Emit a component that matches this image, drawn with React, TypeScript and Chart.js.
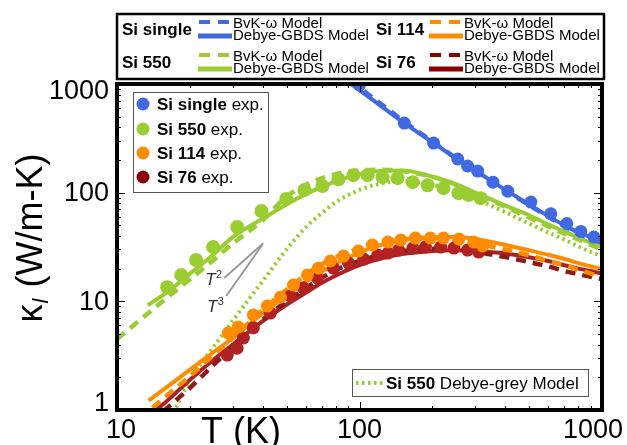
import React, { useEffect, useRef } from "react";
import { Chart, registerables } from "chart.js";

Chart.register(...registerables);

const FONT = '"Liberation Sans", Arial, Helvetica, sans-serif';

// ---------- axis ticks ----------
const xTickValues = [10, 100, 1000];
const xTickLabels = ["10", "100", "1000"];
const yTickValues = [1, 10, 100, 1000];
const yTickLabels = ["1", "10", "100", "1000"];

// ---------- Si single ----------
const singleExpT = [100, 153, 202, 254, 279, 307, 355, 409, 509, 615, 716, 818, 926];
const singleExpK = [980, 437, 286, 204, 176, 158, 125, 103, 82, 64, 52, 44, 39];
const singleModelT = [80, 100, 120, 150, 200, 250, 300, 400, 500, 600, 700, 800, 900, 1000];
const singleGbdsK = [1250, 880, 650, 450, 290, 207, 160, 106, 78, 61, 50, 43, 39, 36];
const singleBvkK = [1300, 920, 680, 465, 295, 208, 160, 105, 77, 60, 49, 42, 37.5, 34.5];

// ---------- Si 550 ----------
const s550ExpT = [16.1, 18.4, 21.2, 24.9, 31.3, 39.4, 49.9, 59.3, 70.3, 81.9, 94.4, 107.9, 124.5, 143.5, 165.6, 191, 222, 256, 282, 316];
const s550ExpK = [13.5, 17.5, 24.0, 31.6, 48.3, 67.8, 87.4, 105.7, 115, 133, 145, 145, 139, 136, 125, 117, 110, 99, 95, 89];
const s550GbdsT = [13.4, 16, 20, 25, 30, 40, 50, 60, 70, 80, 100, 120, 150, 200, 250, 300, 400, 500, 600, 700, 800, 900, 1000];
const s550GbdsK = [9.2, 12, 18, 27, 39, 58, 78, 97, 113, 127, 148, 158, 160, 140, 120, 100, 76, 62, 51, 44, 38.5, 34.5, 31.5];
const s550BvkT = [10, 12, 15, 20, 25, 30, 40, 50, 60, 70, 80, 100, 120, 150, 200, 250, 300, 400, 500, 600, 700, 800, 900, 1000];
const s550BvkK = [4.5, 6.3, 9.5, 16, 24, 34, 56, 92, 118, 136, 148, 160, 163, 158, 140, 118, 98, 74, 59, 49, 42, 37, 33, 30];
const s550GreyT = [17.5, 20, 25, 30, 35, 40, 50, 60, 70, 80, 100, 120, 150, 200, 250, 300, 400, 500, 600, 700, 800, 900, 1000];
const s550GreyK = [1.05, 1.9, 3.8, 6.6, 10.5, 15.5, 30, 48, 65, 82, 106, 120, 128, 118, 102, 88, 66, 52, 43, 37, 32, 28.5, 26];

// ---------- Si 114 ----------
const s114ExpT = [28.8, 31.6, 36.5, 41.7, 47.2, 53.4, 61, 67.7, 75.9, 85.9, 99, 113, 131, 148, 170, 196, 222, 257, 296, 322];
const s114ExpK = [5.1, 5.8, 7.5, 9.05, 10.9, 14.1, 17.5, 20.2, 23.5, 26.1, 29.0, 33.0, 35.1, 36.6, 38.2, 38.2, 38.2, 37.4, 35.1, 32.3];
const s114GbdsT = [13.5, 15, 20, 25, 30, 40, 50, 60, 70, 80, 100, 120, 150, 200, 250, 300, 400, 500, 600, 700, 800, 900, 1000];
const s114GbdsK = [1.22, 1.45, 2.35, 3.4, 4.6, 7.8, 11.3, 15, 18.8, 22.3, 28, 32.5, 36.5, 39, 39, 37.5, 33, 29.5, 26.8, 24.5, 22.5, 21, 19.8];
const s114BvkT = [14, 16, 20, 25, 30, 40, 50, 60, 70, 80, 100, 120, 150, 200, 250, 300, 400, 500, 600, 700, 800, 900, 1000];
const s114BvkK = [1.05, 1.35, 2.05, 3.2, 4.6, 8.4, 12.8, 17.5, 22, 25.5, 30.5, 34, 37, 38, 36.5, 34, 30, 26.5, 23.5, 21.5, 19.5, 18, 17];

// ---------- Si 76 ----------
const s76ExpT = [28.5, 31.3, 33.2, 36.5, 42.9, 51.9, 58.6, 67, 78.1, 90.1, 104, 119, 131, 145, 166, 187, 216, 245, 279, 310];
const s76ExpK = [3.2, 3.7, 4.6, 5.7, 7.8, 11.2, 13.3, 16.4, 20.2, 22.5, 24.5, 26.7, 27.8, 29.6, 30.9, 31.6, 31.6, 30.9, 29.6, 28.4];
const s76GbdsT = [14.5, 16, 20, 25, 30, 40, 50, 60, 70, 80, 100, 120, 150, 200, 250, 300, 400, 500, 600, 700, 800, 900, 1000];
const s76GbdsK = [1.0, 1.2, 1.9, 2.9, 4.0, 6.6, 9.3, 12, 14.8, 17.3, 21.5, 24.5, 27.2, 29, 29.5, 29, 27.5, 25.5, 23.5, 21.5, 20, 19, 18];
const s76BvkT = [15.5, 18, 20, 25, 30, 40, 50, 60, 70, 80, 100, 120, 150, 200, 250, 300, 400, 500, 600, 700, 800, 900, 1000];
const s76BvkK = [0.97, 1.3, 1.6, 2.6, 3.8, 6.8, 10, 13.2, 16.5, 19.5, 23.5, 26.5, 29, 30.5, 30, 28.5, 25.5, 23, 21, 19, 17.8, 16.8, 16];

// ---------- annotation (T^2 / T^3 guides, data coords) ----------
const guideT2 = [[27.7, 16.4], [40.1, 34.2]];
const guideT3 = [[28.2, 11.2], [39.7, 33.0]];
const guideT2Label = [23.1, 14.1];
const guideT3Label = [23.5, 7.97];

// ---------- colours ----------
const BLUE = "#4169E1";
const GREEN = "#9ACD32";
const ORANGE = "#FF8C00";
const RED_PT = "#B22222";
const RED_SOLID = "#A82424";
const RED_DASH = "#8B1A1A";
const DARKRED = "#8B0000";

const pts = (T: number[], k: number[]) => T.map((t, i) => ({ x: t, y: k[i] }));

const solid = (label: string, T: number[], k: number[], color: string) => ({
  label,
  data: pts(T, k),
  showLine: true,
  borderColor: color,
  backgroundColor: color,
  borderWidth: 4,
  pointRadius: 0,
  cubicInterpolationMode: "monotone",
  clip: 0,
  order: 2,
});
const dashed = (label: string, T: number[], k: number[], color: string) => ({
  ...solid(label, T, k, color),
  borderWidth: 4.5,
  borderDash: [10, 7],
  borderCapStyle: "butt",
});
const dotted = (label: string, T: number[], k: number[], color: string) => ({
  ...solid(label, T, k, color),
  borderWidth: 4,
  borderDash: [2.5, 3.5],
  borderCapStyle: "butt",
  order: 3,
});
const scatter = (label: string, T: number[], k: number[], color: string, r: number) => ({
  label,
  data: pts(T, k),
  showLine: false,
  pointRadius: r,
  pointBackgroundColor: color,
  pointBorderWidth: 0,
  borderColor: color,
  backgroundColor: color,
  order: 1,
});

function text(ctx: CanvasRenderingContext2D, parts: [string, string][], x: number, y: number) {
  let cx = x;
  for (const [font, s] of parts) {
    ctx.font = font;
    ctx.fillText(s, cx, y);
    cx += ctx.measureText(s).width;
  }
}

const decorPlugin = {
  id: "decor",
  afterDraw(chart: any) {
    const ctx: CanvasRenderingContext2D = chart.ctx;
    const { left, right, top, bottom } = chart.chartArea;
    const xs = chart.scales.x;
    const ys = chart.scales.y;
    const W = chart.width;
    ctx.save();

    // ---- T^2 / T^3 guides ----
    ctx.strokeStyle = "#9a9a9a";
    ctx.lineWidth = 2;
    ctx.setLineDash([]);
    for (const g of [guideT2, guideT3]) {
      ctx.beginPath();
      ctx.moveTo(xs.getPixelForValue(g[0][0]), ys.getPixelForValue(g[0][1]));
      ctx.lineTo(xs.getPixelForValue(g[1][0]), ys.getPixelForValue(g[1][1]));
      ctx.stroke();
    }
    ctx.fillStyle = "#333";
    ctx.textBaseline = "alphabetic";
    ctx.textAlign = "left";
    const lab = (p: number[], sup: string) => {
      const px = xs.getPixelForValue(p[0]);
      const py = ys.getPixelForValue(p[1]);
      ctx.font = `italic 17px ${FONT}`;
      ctx.fillText("T", px, py);
      const w = ctx.measureText("T").width;
      ctx.font = `11px ${FONT}`;
      ctx.fillText(sup, px + w + 0.5, py - 7);
    };
    lab(guideT2Label, "2");
    lab(guideT3Label, "3");

    // ---- ticks (inward) ----
    ctx.strokeStyle = "#000";
    ctx.lineWidth = 1;
    for (let d = 10; d <= 1000; d *= 10) {
      for (let m = 1; m <= 9; m++) {
        const v = d * m;
        if (v > 1000) break;
        const px = Math.round(xs.getPixelForValue(v)) + 0.5;
        const len = m === 1 ? 8 : 4;
        ctx.beginPath();
        ctx.moveTo(px, bottom);
        ctx.lineTo(px, bottom - len);
        ctx.moveTo(px, top);
        ctx.lineTo(px, top + len);
        ctx.stroke();
      }
    }
    for (let d = 1; d <= 1000; d *= 10) {
      for (let m = 1; m <= 9; m++) {
        const v = d * m;
        if (v > 1000) break;
        const py = Math.round(ys.getPixelForValue(v)) + 0.5;
        const len = m === 1 ? 8 : 4;
        ctx.beginPath();
        ctx.moveTo(left, py);
        ctx.lineTo(left + len, py);
        ctx.moveTo(right, py);
        ctx.lineTo(right - len, py);
        ctx.stroke();
      }
    }

    // ---- frame ----
    ctx.lineWidth = 4;
    ctx.strokeStyle = "#000";
    ctx.strokeRect(left, top, right - left, bottom - top);

    // ---- tick labels ----
    ctx.fillStyle = "#000";
    ctx.font = `27px ${FONT}`;
    ctx.textBaseline = "alphabetic";
    ctx.textAlign = "center";
    xTickValues.forEach((v, i) => {
      const s = xTickLabels[i];
      const w = ctx.measureText(s).width;
      let px = xs.getPixelForValue(v);
      px = Math.max(px, left + 4);
      px = Math.min(px, W - 4 - w / 2);
      ctx.fillText(s, px, 438);
    });
    ctx.textAlign = "right";
    ctx.textBaseline = "middle";
    yTickValues.forEach((v, i) => {
      let py = ys.getPixelForValue(v);
      py = Math.min(Math.max(py, top + 7), bottom - 7);
      ctx.fillText(yTickLabels[i], left - 8, py + 1);
    });

    // ---- axis titles ----
    ctx.textAlign = "left";
    ctx.textBaseline = "alphabetic";
    ctx.font = `36px ${FONT}`;
    ctx.fillText("T (K)", 201, 443);

    ctx.save();
    ctx.translate(42, 238);
    ctx.rotate(-Math.PI / 2);
    ctx.font = `36px ${FONT}`;
    const wk = ctx.measureText("κ").width;
    ctx.font = `italic 22px ${FONT}`;
    const wl = ctx.measureText("l").width;
    ctx.font = `36px ${FONT}`;
    const wr = ctx.measureText(" (W/m-K)").width;
    const total = wk + wl + 2 + wr;
    let cx = -total / 2;
    ctx.fillText("κ", cx, 0);
    cx += wk;
    ctx.font = `italic 22px ${FONT}`;
    ctx.fillText("l", cx + 1, 6);
    cx += wl + 2;
    ctx.font = `36px ${FONT}`;
    ctx.fillText(" (W/m-K)", cx, 0);
    ctx.restore();

    // ---- top legend ----
    ctx.fillStyle = "#fff";
    ctx.fillRect(117, 14, 487, 65);
    ctx.lineWidth = 2.5;
    ctx.strokeStyle = "#000";
    ctx.strokeRect(117, 14, 487, 65);
    const groups: [string, string, number, number][] = [
      ["Si single", BLUE, 0, 0],
      ["Si 114", ORANGE, 1, 0],
      ["Si 550", GREEN, 0, 1],
      ["Si 76", DARKRED, 1, 1],
    ];
    for (const [name, col, c, r] of groups) {
      const lx = c === 0 ? 122 : 376;
      const sx = c === 0 ? 198 : 429;
      const tx = c === 0 ? 233 : 464;
      const oy = r === 0 ? 0 : 33;
      ctx.fillStyle = "#000";
      ctx.textBaseline = "middle";
      ctx.textAlign = "left";
      ctx.font = `bold 17px ${FONT}`;
      ctx.fillText(name, lx, 30 + oy);
      ctx.font = `15px ${FONT}`;
      ctx.fillText("BvK-ω Model", tx, 24 + oy);
      ctx.fillText("Debye-GBDS Model", tx, 36 + oy);
      ctx.strokeStyle = col;
      ctx.lineWidth = 4;
      ctx.beginPath();
      ctx.moveTo(sx + 1, 22 + oy);
      ctx.lineTo(sx + 12, 22 + oy);
      ctx.moveTo(sx + 20, 22 + oy);
      ctx.lineTo(sx + 31, 22 + oy);
      ctx.stroke();
      ctx.lineWidth = 5;
      ctx.beginPath();
      ctx.moveTo(sx, 36 + oy);
      ctx.lineTo(sx + 34, 36 + oy);
      ctx.stroke();
    }

    // ---- experimental legend ----
    ctx.fillStyle = "#fff";
    ctx.fillRect(133.5, 92.5, 135, 100);
    ctx.lineWidth = 1;
    ctx.strokeStyle = "#555";
    ctx.strokeRect(133.5, 92.5, 135, 100);
    const exps: [string, string][] = [
      ["Si single", BLUE],
      ["Si 550", GREEN],
      ["Si 114", ORANGE],
      ["Si 76", DARKRED],
    ];
    const rowsY = [104, 129, 153, 177];
    exps.forEach(([name, col], i) => {
      const y = rowsY[i];
      ctx.fillStyle = col;
      ctx.beginPath();
      ctx.arc(143, y, 6.5, 0, Math.PI * 2);
      ctx.fill();
      ctx.fillStyle = "#000";
      ctx.textBaseline = "middle";
      text(ctx, [[`bold 17px ${FONT}`, name], [`17px ${FONT}`, " exp."]], 157, y + 1);
    });

    // ---- debye-grey legend ----
    ctx.fillStyle = "#fff";
    ctx.fillRect(352.5, 369.5, 236, 27);
    ctx.strokeStyle = "#555";
    ctx.lineWidth = 1;
    ctx.strokeRect(352.5, 369.5, 236, 27);
    ctx.strokeStyle = GREEN;
    ctx.lineWidth = 4;
    ctx.setLineDash([2.5, 3.5]);
    ctx.beginPath();
    ctx.moveTo(356, 383);
    ctx.lineTo(384, 383);
    ctx.stroke();
    ctx.setLineDash([]);
    ctx.fillStyle = "#000";
    ctx.textBaseline = "middle";
    text(ctx, [[`bold 17px ${FONT}`, "Si 550"], [`17px ${FONT}`, " Debye-grey Model"]], 386, 384);

    ctx.restore();
  },
};

export default function App() {
  const ref = useRef<HTMLCanvasElement | null>(null);
  useEffect(() => {
    if (!ref.current) return;
    const chart = new Chart(ref.current, {
      type: "scatter",
      data: {
        datasets: [
          scatter("Si single exp.", singleExpT, singleExpK, BLUE, 6.5),
          scatter("Si 550 exp.", s550ExpT, s550ExpK, GREEN, 7),
          scatter("Si 114 exp.", s114ExpT, s114ExpK, ORANGE, 6.5),
          scatter("Si 76 exp.", s76ExpT, s76ExpK, RED_PT, 6.5),
          dashed("Si single BvK-ω", singleModelT, singleBvkK, BLUE),
          solid("Si single Debye-GBDS", singleModelT, singleGbdsK, BLUE),
          dashed("Si 550 BvK-ω", s550BvkT, s550BvkK, GREEN),
          solid("Si 550 Debye-GBDS", s550GbdsT, s550GbdsK, GREEN),
          dotted("Si 550 Debye-grey", s550GreyT, s550GreyK, GREEN),
          dashed("Si 114 BvK-ω", s114BvkT, s114BvkK, ORANGE),
          solid("Si 114 Debye-GBDS", s114GbdsT, s114GbdsK, ORANGE),
          dashed("Si 76 BvK-ω", s76BvkT, s76BvkK, RED_DASH),
          solid("Si 76 Debye-GBDS", s76GbdsT, s76GbdsK, RED_SOLID),
        ] as any,
      },
      options: {
        animation: false,
        responsive: false,
        maintainAspectRatio: false,
        layout: { padding: { left: 117, top: 84, right: 25, bottom: 35 } },
        plugins: { legend: { display: false }, tooltip: { enabled: false } },
        scales: {
          x: { type: "logarithmic", min: 10, max: 1000, display: false },
          y: { type: "logarithmic", min: 1, max: 1000, display: false },
        },
      } as any,
      plugins: [decorPlugin],
    });
    return () => chart.destroy();
  }, []);
  return (
    <div style={{ position: "absolute", left: 0, top: 0, width: 627, height: 445, background: "#fff" }}>
      <canvas ref={ref} width={627} height={445} />
    </div>
  );
}
